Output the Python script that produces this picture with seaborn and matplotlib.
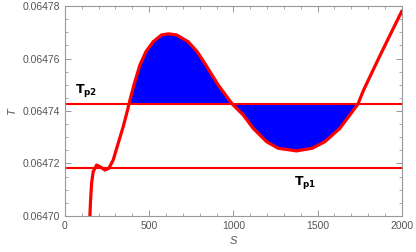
import numpy as np
import pandas as pd
import matplotlib
matplotlib.use("Agg")
import matplotlib.pyplot as plt
from matplotlib.ticker import MultipleLocator, FormatStrFormatter
import seaborn as sns

S_vals = [148.4, 152.5, 158.5, 168.0, 188.1, 207.7, 237.4, 261.1, 286.6, 316.3,
          346.0, 372.1, 379.8, 409.5, 445.1, 480.7, 524.0, 573.9, 613.1, 662.9,
          731.8, 785.2, 836.8, 909.8, 994.1, 1058.2, 1117.5, 1197.0, 1265.9,
          1375.1, 1467.7, 1543.0, 1632.1, 1691.4, 1739.0, 1770.3, 1820.2,
          1869.4, 1918.7, 1968.5, 2000.0]
T_vals = [0.0647000, 0.0647061, 0.0647125, 0.0647169, 0.0647194, 0.0647188,
          0.0647175, 0.0647182, 0.0647213, 0.0647277, 0.0647340, 0.0647404,
          0.0647426, 0.0647499, 0.0647575, 0.0647626, 0.0647664, 0.0647690,
          0.0647694, 0.0647690, 0.0647664, 0.0647626, 0.0647575, 0.0647499,
          0.0647426, 0.0647385, 0.0647334, 0.0647283, 0.0647258, 0.0647248,
          0.0647258, 0.0647283, 0.0647334, 0.0647385, 0.0647426, 0.0647476,
          0.0647544, 0.0647610, 0.0647675, 0.0647740, 0.0647781]
Tp1 = 0.0647182
Tp2 = 0.0647426
S_fill_start = 379.8
S_fill_end = 1739.0
x_ticks = [0, 500, 1000, 1500, 2000]
y_ticks = [0.06470, 0.06472, 0.06474, 0.06476, 0.06478]

sns.set_theme(style="white")
plt.rcParams['font.family'] = ['Liberation Sans', 'DejaVu Sans']

df = pd.DataFrame({"S": S_vals, "T": T_vals})

fig = plt.figure(figsize=(4.16, 2.52), dpi=100)
ax = fig.add_axes([0.156, 0.143, 0.81, 0.833])

S = np.array(S_vals)
T = np.array(T_vals)
mask = (S >= S_fill_start) & (S <= S_fill_end)
ax.fill_between(S, T, Tp2, where=mask, color="#0000FF", linewidth=0, interpolate=True, zorder=1)

ax.axhline(Tp2, color="#FF0000", lw=1.5, zorder=2)
ax.axhline(Tp1, color="#FF0000", lw=1.5, zorder=2)
sns.lineplot(data=df, x="S", y="T", ax=ax, color="#FF0000", lw=2.3, sort=False, zorder=3,
             solid_joinstyle="round", solid_capstyle="round")

ax.text(60, 0.064748, r"$\mathbf{T_{p2}}$", fontsize=9, color="black", va="center", ha="left")
ax.text(1427, 0.0647128, r"$\mathbf{T_{p1}}$", fontsize=9, color="black", va="center", ha="center")

ax.set_xlim(0, 2000)
ax.set_ylim(0.06470, 0.06478)
ax.set_xticks(x_ticks)
ax.set_yticks(y_ticks)
ax.yaxis.set_major_formatter(FormatStrFormatter("%.5f"))
ax.xaxis.set_minor_locator(MultipleLocator(100))
ax.yaxis.set_minor_locator(MultipleLocator(0.000005))
ax.tick_params(which="both", direction="in", top=True, right=True, bottom=True, left=True,
               colors="#888888", labelcolor="#555555", labelsize=7.5)
ax.tick_params(which="major", length=4, width=0.6)
ax.tick_params(which="minor", length=2, width=0.5)
ax.set_xlabel("S", fontsize=8, color="#555555", style="italic", labelpad=4)
ax.set_ylabel("T", fontsize=8, color="#555555", style="italic", labelpad=4)
for sp in ax.spines.values():
    sp.set_color("#999999")
    sp.set_linewidth(0.8)

fig.savefig("out.png", dpi=100)
